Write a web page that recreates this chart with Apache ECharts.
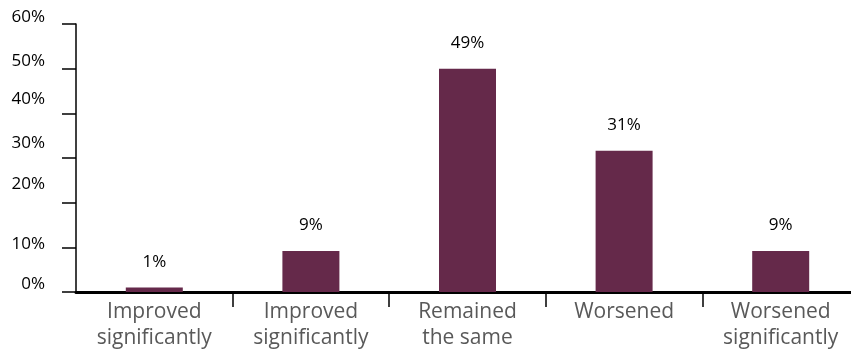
<!DOCTYPE html>
<html>
<head>
<meta charset="utf-8">
<script src="https://cdn.jsdelivr.net/npm/echarts@6/dist/echarts.min.js"></script>
<style>
  html, body { margin: 0; padding: 0; background: #fff; }
  #chart { width: 851px; height: 351px; }
</style>
</head>
<body>
<div id="chart"></div>
<script>
const categories = [
  'Improved\nsignificantly',
  'Improved\nsignificantly',
  'Remained\nthe same',
  'Worsened',
  'Worsened\nsignificantly'
];
const values = [1, 9, 49, 31, 9];
const yTickLabels = ['0%', '10%', '20%', '30%', '40%', '50%', '60%'];
// where the tick labels sit on the value scale (they are not on the ticks)
const yLabelAt = [1.8, 10.5, 23.7, 32.7, 42.3, 50.7, 58.8];

const font = '"Open Sans", "Noto Sans", sans-serif';
const chart = echarts.init(document.getElementById('chart'));

chart.setOption({
  animation: false,
  grid: { left: 76, width: 783, top: 24, bottom: 59, outerBoundsMode: 'none' },
  xAxis: {
    type: 'category',
    data: categories,
    axisLine: { lineStyle: { color: '#000', width: 3 } },
    axisTick: {
      show: true,
      length: 15,
      interval: (i) => i > 0,
      lineStyle: { color: '#000', width: 1.5 }
    },
    axisLabel: {
      interval: 0,
      color: '#595959',
      fontFamily: font,
      fontSize: 21,
      lineHeight: 26,
      margin: 7
    }
  },
  yAxis: {
    type: 'value',
    min: 0,
    max: 58.8,
    interval: 9.8,
    splitLine: { show: false },
    axisLine: { show: true, lineStyle: { color: '#000', width: 1.5 } },
    axisTick: { show: true, length: 14, lineStyle: { color: '#000', width: 1.5 } },
    axisLabel: {
      customValues: yLabelAt,
      margin: 31,
      color: '#000',
      fontFamily: font,
      fontSize: 17,
      formatter: (v) => {
        const i = yLabelAt.findIndex((a) => Math.abs(a - v) < 0.01);
        const txt = yTickLabels[i] || '';
        return i === yLabelAt.length - 1 ? '{top|' + txt + '}' : txt;
      },
      rich: {
        top: { fontFamily: font, fontSize: 17, color: '#000', padding: [0, 0, 14, 0] }
      }
    }
  },
  series: [
    {
      type: 'bar',
      data: values,
      barWidth: 57,
      itemStyle: { color: '#65294A' },
      label: {
        show: true,
        position: 'top',
        distance: 17,
        color: '#000',
        fontFamily: font,
        fontSize: 17,
        formatter: '{c}%'
      }
    }
  ]
});
</script>
</body>
</html>
